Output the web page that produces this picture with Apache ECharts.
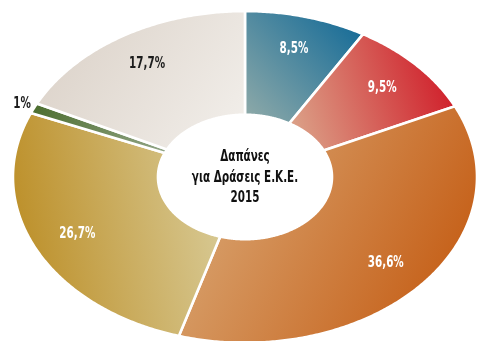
<!DOCTYPE html>
<html>
<head>
<meta charset="utf-8">
<script src="https://cdn.jsdelivr.net/npm/echarts@6/dist/echarts.min.js"></script>
<style>
  html, body { margin: 0; padding: 0; background: #ffffff; }
  #chart { width: 477px; height: 341px; }
</style>
</head>
<body>
<div id="chart"></div>
<script>
// Shares of spending (%), clockwise from 12 o'clock
const shares = [8.5, 9.5, 36.6, 26.7, 1, 17.7];
// Centre caption, one entry per line
const captionLines = ['Δαπάνες', 'για Δράσεις Ε.Κ.Ε.', '2015'];

// Slice fills: light -> dark linear gradients (bounding-box coordinates)
const sliceFills = [
  { dir: [0, 1, 1, 0],     light: '#93aca9', dark: '#0b6696' },
  { dir: [0, 1, 1, 0.55],  light: '#dcaa8e', dark: '#d01e2a' },
  { dir: [0.05, 0, 1, 0.6], light: '#dbad7c', dark: '#c55e16' },
  { dir: [0.95, 0.45, 0, 0.6], light: '#d6c68e', dark: '#bc8e26' },
  { dir: [1, 1, 0, 0],     light: '#93a688', dark: '#4a6c2c' },
  { dir: [1, 1, 0, 0],     light: '#f3f0ec', dark: '#d9cfc5' }
];
const labelColors = ['#ffffff', '#ffffff', '#ffffff', '#ffffff', '#1c1c1c', '#1c1c1c'];
const FONT = '"DejaVu Sans Condensed", "DejaVu Sans", sans-serif';
// horizontal squeeze that gives the bold face a condensed look
const CONDENSE = 0.77;

const chart = echarts.init(document.getElementById('chart'), null, { renderer: 'canvas' });

function fmt(v) {
  return String(v).replace('.', ',') + '%';
}

// Elliptical doughnut: each slice is a ring sector squashed vertically
function renderItem(params, api) {
  const i = params.dataIndex;
  const W = api.getWidth(), H = api.getHeight();
  const cx = W * 0.5136, cy = H * 0.519;
  const rOuter = W * 0.4864, rInner = W * 0.1824, squash = 0.715;
  const total = shares.reduce((a, b) => a + b, 0);
  let before = 0;
  for (let j = 0; j < i; j++) before += shares[j];
  const value = api.value(0);
  const a0 = before / total * Math.PI * 2;
  const a1 = (before + value) / total * Math.PI * 2;
  const pt = (r, a) => [cx + r * Math.sin(a), cy - r * Math.cos(a) * squash];
  const n = Math.max(2, Math.ceil((a1 - a0) / (Math.PI / 360)));
  const pts = [];
  for (let s = 0; s <= n; s++) pts.push(pt(rOuter, a0 + (a1 - a0) * s / n));
  for (let s = n; s >= 0; s--) pts.push(pt(rInner, a0 + (a1 - a0) * s / n));

  const f = sliceFills[i];
  const fill = new echarts.graphic.LinearGradient(f.dir[0], f.dir[1], f.dir[2], f.dir[3], [
    { offset: 0, color: f.light },
    { offset: 1, color: f.dark }
  ]);

  const mid = (a0 + a1) / 2;
  const labelR = value < 3 ? rOuter * 1.056 : rOuter * 0.80;
  const lp = pt(labelR, mid);

  return {
    type: 'group',
    children: [
      {
        type: 'polygon',
        shape: { points: pts },
        style: { fill: fill, stroke: '#ffffff', lineWidth: 2.6, lineJoin: 'miter' }
      },
      {
        type: 'text',
        x: lp[0],
        y: lp[1],
        scaleX: CONDENSE,
        style: {
          text: fmt(value),
          x: 0,
          y: 0,
          fill: labelColors[i],
          font: 'bold 15px ' + FONT,
          align: 'center',
          verticalAlign: 'middle',
          textAlign: 'center',
          textVerticalAlign: 'middle'
        }
      }
    ]
  };
}

chart.setOption({
  animation: false,
  backgroundColor: '#ffffff',
  graphic: [{
    type: 'text',
    x: 245,
    y: 178,
    scaleX: CONDENSE,
    silent: true,
    style: {
      text: captionLines.join('\n'),
      x: 0,
      y: 0,
      fill: '#111111',
      font: 'bold 15px ' + FONT,
      lineHeight: 20.5,
      align: 'center',
      verticalAlign: 'middle',
      textAlign: 'center',
      textVerticalAlign: 'middle'
    },
    z: 10
  }],
  series: [{
    type: 'custom',
    coordinateSystem: 'none',
    renderItem: renderItem,
    data: shares.map(v => [v])
  }]
});
</script>
</body>
</html>
